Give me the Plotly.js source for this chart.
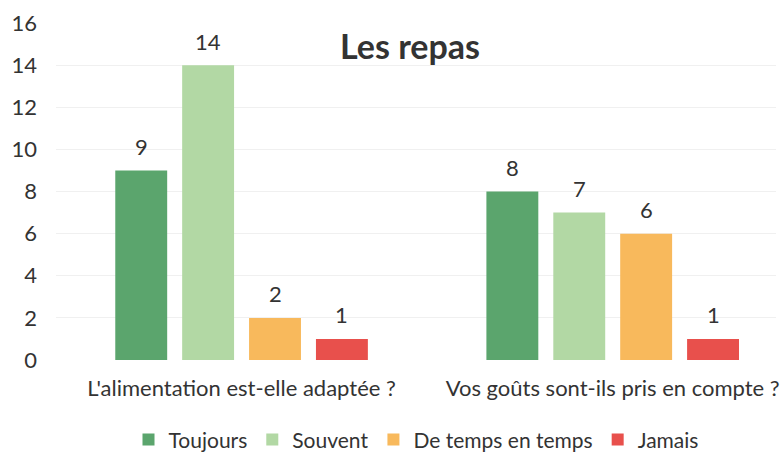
<!DOCTYPE html>
<html><head><meta charset="utf-8">
<script src="https://cdn.plot.ly/plotly-3.0.1.min.js"></script>
<style>html,body{margin:0;padding:0;background:#fff}</style>
</head><body>
<div id="chart" style="width:784px;height:457px"></div>
<script>
const categories = ["L'alimentation est-elle adaptée ?", "Vos goûts sont-ils pris en compte ?"];
const seriesNames = ["Toujours", "Souvent", "De temps en temps", "Jamais"];
const toujours = [9, 8];
const souvent = [14, 7];
const deTemps = [2, 6];
const jamais = [1, 1];
const yTicks = [0, 2, 4, 6, 8, 10, 12, 14, 16];

const colors = ["#5ba56d", "#b2d8a4", "#f8b95c", "#e8504c"];
const values = [toujours, souvent, deTemps, jamais];
const font = "Lato, 'Open Sans', sans-serif";
const bargap = 0.279;
const nSeries = values.length;

const traces = values.map((v, i) => ({
  type: 'bar',
  name: seriesNames[i],
  x: [0, 1],
  y: v,
  marker: {color: colors[i]},
  hoverinfo: 'none'
}));

// data labels derived from the same values, placed at each bar's slot centre
const annotations = [];
values.forEach((v, i) => {
  v.forEach((val, c) => {
    annotations.push({
      x: c + (i - (nSeries - 1) / 2) * (1 - bargap) / nSeries,
      y: val, xref: 'x', yref: 'y',
      text: String(val), showarrow: false,
      yanchor: 'middle', xanchor: 'center', yshift: 24,
      font: {size: 22, color: '#333', family: font}
    });
  });
});

const layout = {
  width: 784, height: 457,
  margin: {l: 56, r: 8, t: 23, b: 97, autoexpand: false},
  paper_bgcolor: '#fff', plot_bgcolor: '#fff',
  barmode: 'group',
  bargap: bargap,
  bargroupgap: 0.224,
  title: {text: '<b>Les repas</b>', x: 0.523, xanchor: 'center', y: 0.897, yanchor: 'middle',
          font: {size: 34, color: '#333', family: font}},
  xaxis: {
    range: [-0.5, 1.44],
    tickmode: 'array', tickvals: [0, 1], ticktext: categories,
    tickfont: {size: 22, color: '#333', family: font},
    showgrid: false, zeroline: false, showline: false, ticks: '',
    ticklabelstandoff: 13, automargin: false
  },
  yaxis: {
    range: [0, 16],
    tickmode: 'array', tickvals: yTicks,
    tickfont: {size: 22, color: '#333', family: font},
    showgrid: true, gridcolor: '#f0f0f0', zeroline: false, showline: false,
    ticklabelstandoff: 18, automargin: false
  },
  annotations: annotations,
  showlegend: true,
  legend: {orientation: 'h', x: 0.5, xanchor: 'center', y: -0.237, yanchor: 'middle',
           font: {size: 21, color: '#333', family: font}, itemwidth: 30,
           traceorder: 'normal'},
  font: {family: font}
};

Plotly.newPlot('chart', traces, layout, {displayModeBar: false, staticPlot: true});
</script>
</body></html>
